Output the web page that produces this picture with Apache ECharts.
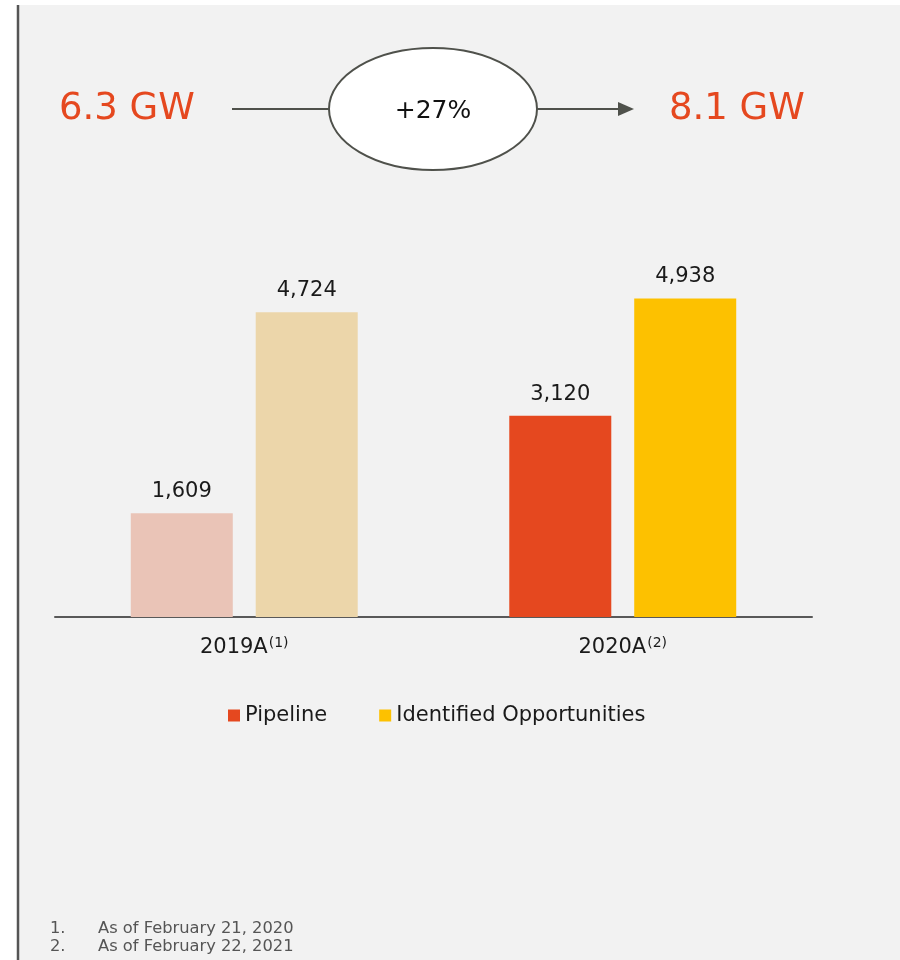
<!DOCTYPE html>
<html>
<head>
<meta charset="utf-8">
<script src="https://cdn.jsdelivr.net/npm/echarts@6/dist/echarts.min.js"></script>
<style>
  html, body {
    margin: 0;
    padding: 0;
    background: #ffffff;
  }
  #chart {
    width: 900px;
    height: 960px;
  }
</style>
</head>
<body>
<div id="chart"></div>
<script>
const categories = ["2019A", "2020A"];
const footRefs = ["1", "2"];
const pipelineValues = [1609, 3120];
const opportunityValues = [4724, 4938];
const seriesNames = ["Pipeline", "Identified Opportunities"];
const fadedColors = ["#eac4b7", "#ecd6aa"];
const startLabel = "6.3 GW";
const endLabel = "8.1 GW";
const growthLabel = "+27%";
const footnotes = ["As of February 21, 2020", "As of February 22, 2021"];

const orange = "#e5481f";
const yellow = "#fdc100";
const darkLine = "#4f514b";
const font = "DejaVu Sans, Verdana, sans-serif";

var chart = echarts.init(document.getElementById("chart"));

// first year is drawn faded, like in the slide
function withFade(values, fade) {
  return values.map((v, i) => {
    if (i == 0) return { value: v, itemStyle: { color: fade } };
    return v;
  });
}

let valueLabel = {
  show: true,
  position: "top",
  distance: 11,
  fontFamily: font,
  fontSize: 21,
  color: "#1a1a1a",
  formatter: (p) => p.value.toLocaleString("en-US"),
};

let option = {
  backgroundColor: "#ffffff",
  animation: false,
  graphic: [
    {
      type: "rect",
      z: -10,
      shape: { x: 18, y: 5, width: 882, height: 955 },
      style: { fill: "#f2f2f2" },
    },
    {
      type: "line",
      shape: { x1: 18, y1: 5, x2: 18, y2: 960 },
      style: { stroke: "#555555", lineWidth: 2.5 },
    },
    {
      type: "text",
      left: 59,
      top: 91,
      style: { text: startLabel, fill: orange, font: "37px " + font },
    },
    {
      type: "line",
      shape: { x1: 232, y1: 109, x2: 330, y2: 109 },
      style: { stroke: darkLine, lineWidth: 2 },
    },
    {
      type: "ellipse",
      shape: { cx: 433, cy: 109, rx: 104, ry: 61 },
      style: { fill: "#ffffff", stroke: darkLine, lineWidth: 2 },
    },
    {
      type: "text",
      x: 433,
      y: 111,
      style: {
        text: growthLabel,
        fill: "#111111",
        font: "25px " + font,
        align: "center",
        verticalAlign: "middle",
      },
    },
    {
      type: "line",
      shape: { x1: 537, y1: 109, x2: 620, y2: 109 },
      style: { stroke: darkLine, lineWidth: 2 },
    },
    {
      type: "polygon",
      shape: { points: [[618, 102], [634, 109], [618, 116]] },
      style: { fill: darkLine },
    },
    {
      type: "text",
      left: 669,
      top: 91,
      style: { text: endLabel, fill: orange, font: "37px " + font },
    },
    {
      type: "text",
      x: 50,
      y: 929,
      style: { text: footRefs[0] + ".", fill: "#555555", font: "16.3px " + font, verticalAlign: "middle" },
    },
    {
      type: "text",
      x: 98,
      y: 929,
      style: { text: footnotes[0], fill: "#555555", font: "16.3px " + font, verticalAlign: "middle" },
    },
    {
      type: "text",
      x: 50,
      y: 947,
      style: { text: footRefs[1] + ".", fill: "#555555", font: "16.3px " + font, verticalAlign: "middle" },
    },
    {
      type: "text",
      x: 98,
      y: 947,
      style: { text: footnotes[1], fill: "#555555", font: "16.3px " + font, verticalAlign: "middle" },
    },
  ],
  legend: {
    data: seriesNames,
    left: 228,
    top: 705,
    padding: 0,
    icon: "rect",
    itemWidth: 12,
    itemHeight: 12,
    itemGap: 52,
    textStyle: { fontFamily: font, fontSize: 21, color: "#1a1a1a" },
  },
  grid: {
    left: 55,
    right: 88,
    top: 230,
    bottom: 343,
  },
  xAxis: {
    type: "category",
    data: categories,
    axisLine: { lineStyle: { color: "#595959", width: 2 } },
    axisTick: { show: false },
    axisLabel: {
      margin: 19,
      formatter: (v, i) => "{a|" + v + "}{s|(" + footRefs[i] + ")}",
      rich: {
        a: { fontFamily: font, fontSize: 21, color: "#1a1a1a" },
        s: { fontFamily: font, fontSize: 14, color: "#1a1a1a", verticalAlign: "top", padding: [0, 0, 10, 1] },
      },
    },
  },
  yAxis: {
    type: "value",
    min: 0,
    max: 6000,
    show: false,
    splitLine: { show: false },
  },
  series: [
    {
      name: seriesNames[0],
      type: "bar",
      color: orange,
      barWidth: 102,
      barGap: "22.5%",
      label: valueLabel,
      data: withFade(pipelineValues, fadedColors[0]),
    },
    {
      name: seriesNames[1],
      type: "bar",
      color: yellow,
      barWidth: 102,
      label: valueLabel,
      data: withFade(opportunityValues, fadedColors[1]),
    },
  ],
};
chart.setOption(option);
</script>
</body>
</html>
